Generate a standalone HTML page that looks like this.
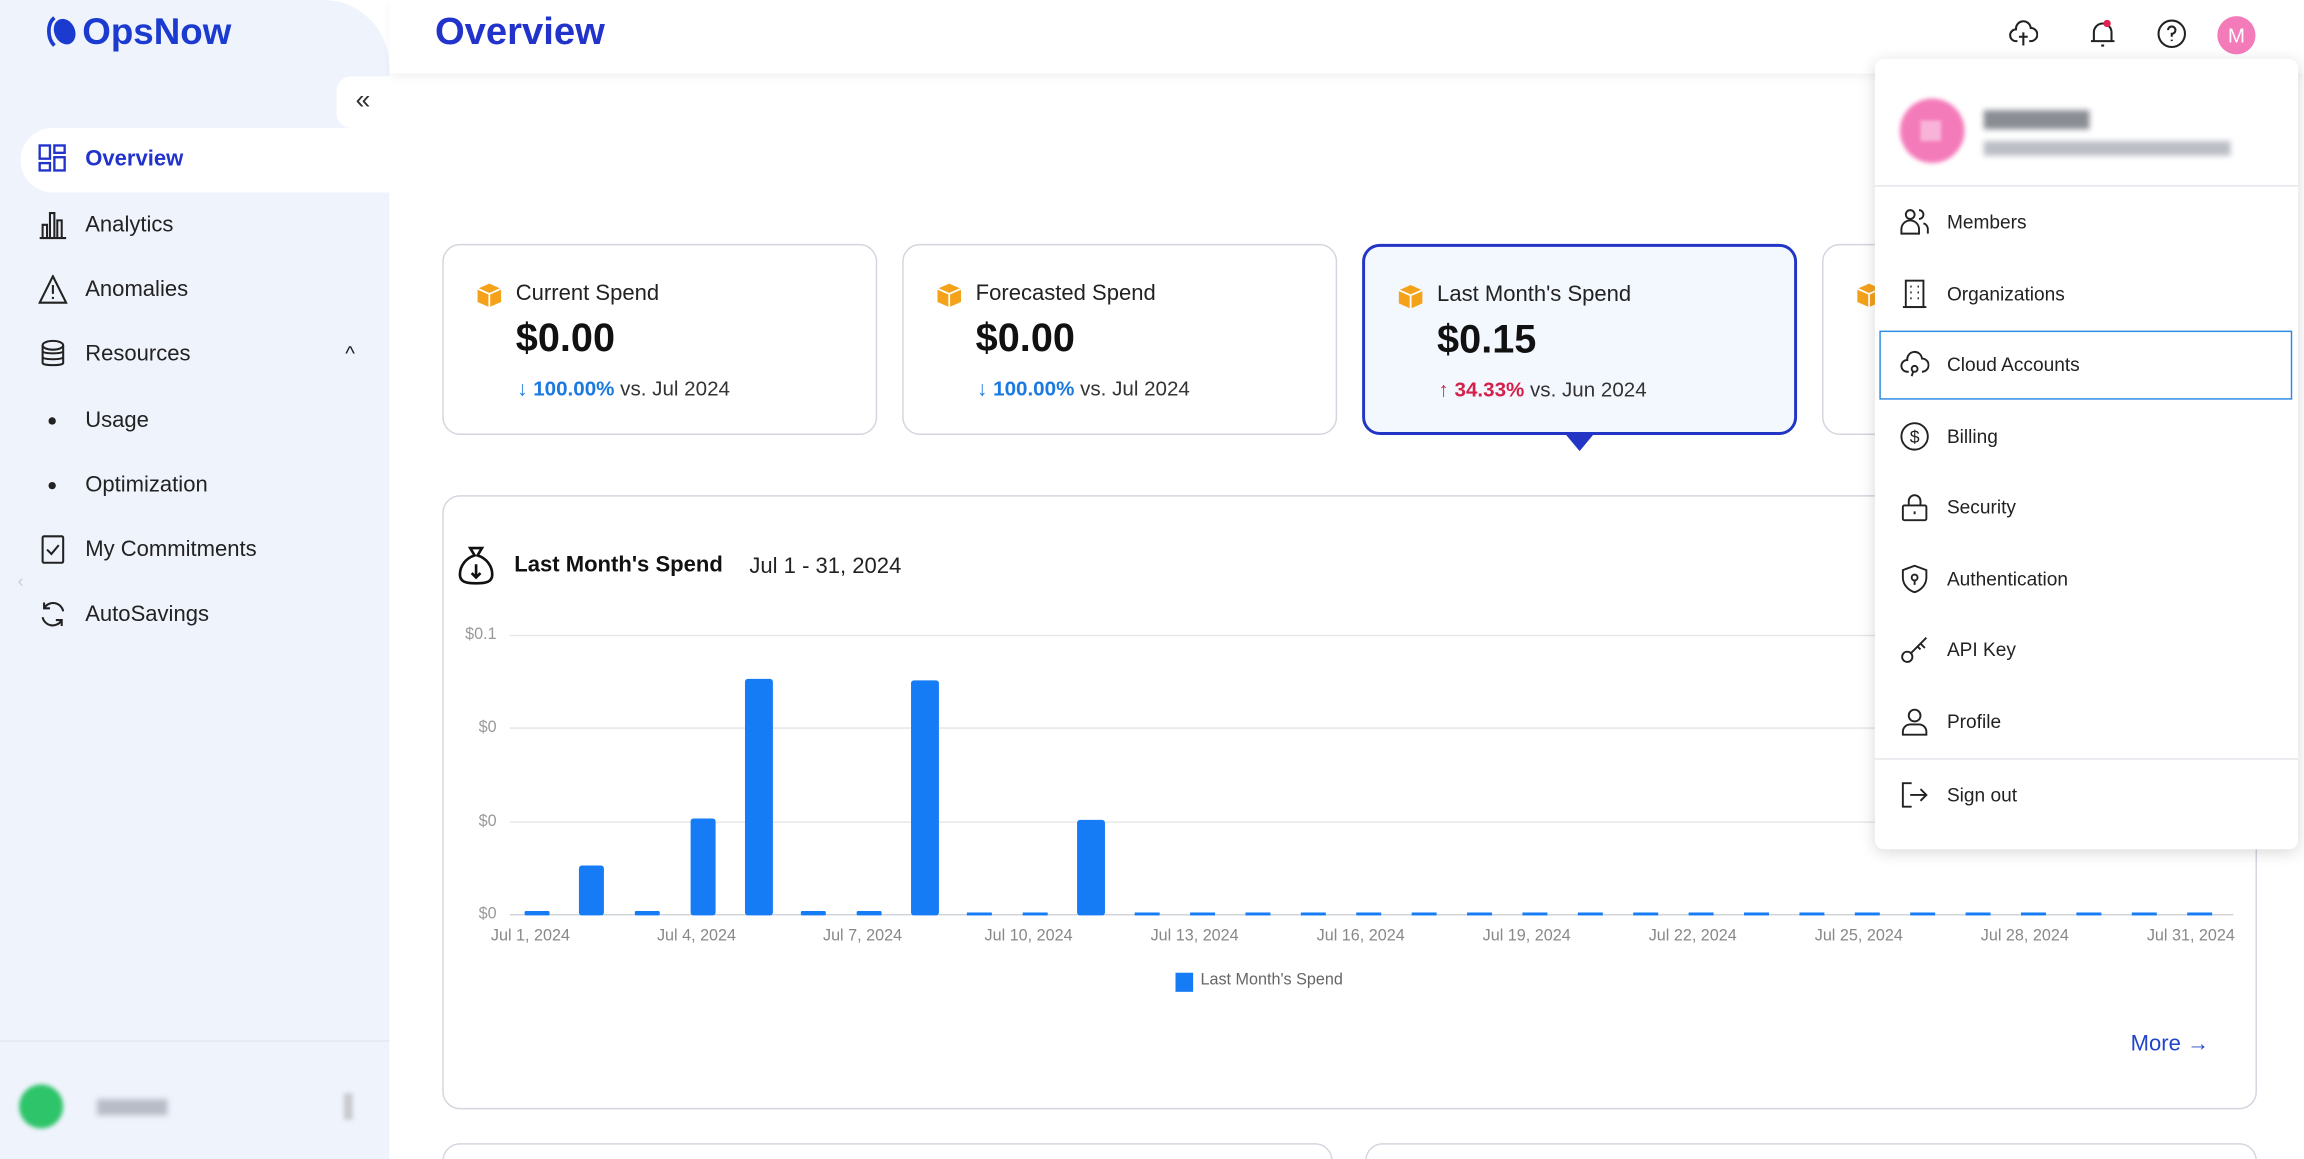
<!DOCTYPE html>
<html><head><meta charset="utf-8">
<style>
*{box-sizing:border-box;margin:0;padding:0}
html,body{width:2304px;height:1159px;overflow:hidden;background:#fff;font-family:"Liberation Sans",sans-serif}
#s{position:absolute;left:0;top:0;width:1568px;height:789px;overflow:hidden;transform:scale(1.469388);transform-origin:0 0;background:#fff}
.a{position:absolute}
.nav{position:absolute;left:58px;font-size:15px;color:#222;transform:translateY(-50%)}
.ic{position:absolute;left:26px;transform:translateY(-50%)}
.card{position:absolute;top:166px;width:296px;height:130px;border:1px solid #d3d6de;border-radius:12px;background:#fff}
.card .lb{position:absolute;left:49px;top:24px;font-size:15px;color:#222}
.card .v{position:absolute;left:49px;top:48px;font-size:27px;font-weight:bold;color:#111}
.card .sub{position:absolute;left:50px;top:89px;font-size:14px;color:#333;white-space:nowrap}
.cube{position:absolute;left:22px;top:25px;width:18px;height:18px}
.dd{position:absolute;left:1276px;top:40px;width:288px;height:538px;background:#fff;border-radius:6px;box-shadow:0 2px 10px rgba(0,0,0,.15)}
.di{position:absolute;left:49px;font-size:13px;color:#222;transform:translateY(-50%)}
.dic{position:absolute;left:17px;transform:translateY(-50%)}
.yl{position:absolute;right:1230px;font-size:11px;color:#999;transform:translateY(-50%)}
.xl{position:absolute;top:631px;font-size:11px;color:#888;transform:translateX(-50%);white-space:nowrap}
</style></head><body><div id="s">
<div class="a" style="left:0;top:0;width:265px;height:900px;background:#eff3fc;border-top-right-radius:45px"></div>
<div class="a" style="left:265px;top:0;width:1303px;height:50px;background:#fff;box-shadow:0 3px 6px rgba(0,0,0,.05)"></div>
<svg class="a" style="left:31px;top:10px" width="22" height="24" viewBox="0 0 22 24"><path d="M6 2 C1 6 1 16 6 21" stroke="#1a3ad0" stroke-width="2.5" fill="none"/><ellipse cx="13" cy="11.5" rx="7" ry="9" transform="rotate(-25 13 11.5)" fill="#1a3ad0"/></svg>
<div class="a" style="left:56px;top:8px;font-size:25px;font-weight:bold;color:#1a3ad0">OpsNow</div>
<div class="a" style="left:229px;top:52px;width:36px;height:35px;background:#fff;border-radius:10px 0 0 10px;font-size:18px;color:#333;text-align:center;line-height:33px">«</div>
<div class="a" style="left:14px;top:87px;width:251px;height:44px;background:#fff;border-radius:22px 0 0 22px"></div>
<svg class="ic" style="top:108px" width="20" height="20" viewBox="0 0 20 20" fill="none" stroke="#2233cc" stroke-width="1.6"><rect x="1" y="1" width="7" height="9"/><rect x="11" y="1" width="7" height="5"/><rect x="1" y="13" width="7" height="5"/><rect x="11" y="9" width="7" height="9"/></svg>
<div class="nav" style="top:108px;color:#2233cc;font-weight:bold">Overview</div>
<svg class="ic" style="top:153px" width="20" height="20" viewBox="0 0 20 20" fill="none" stroke="#222" stroke-width="1.4"><path d="M1 19H19M3 19V10H6V19M8 19V2H11V19M13 19V7H16V19"/></svg>
<div class="nav" style="top:153px">Analytics</div>
<svg class="ic" style="top:197px" width="20" height="20" viewBox="0 0 20 20" fill="none" stroke="#222" stroke-width="1.4"><path d="M10 1L19 19H1Z"/><path d="M10 7V13M10 15V16.5"/></svg>
<div class="nav" style="top:197px">Anomalies</div>
<svg class="ic" style="top:241px" width="20" height="20" viewBox="0 0 20 20" fill="none" stroke="#222" stroke-width="1.4"><ellipse cx="10" cy="4" rx="7" ry="3"/><path d="M3 4V16C3 18 17 18 17 16V4M3 8C3 10 17 10 17 8M3 12C3 14 17 14 17 12"/></svg>
<div class="nav" style="top:241px">Resources</div>
<div class="a" style="left:235px;top:232px;font-size:14px;color:#222">^</div>
<div class="a" style="left:33px;top:284px;width:5px;height:5px;border-radius:50%;background:#222"></div>
<div class="nav" style="top:286px">Usage</div>
<div class="a" style="left:33px;top:328px;width:5px;height:5px;border-radius:50%;background:#222"></div>
<div class="nav" style="top:330px">Optimization</div>
<svg class="ic" style="top:374px" width="20" height="20" viewBox="0 0 20 20" fill="none" stroke="#222" stroke-width="1.4"><rect x="3" y="1" width="14" height="18" rx="1"/><path d="M6 10L9 13L14 7"/></svg>
<div class="nav" style="top:374px">My Commitments</div>
<svg class="ic" style="top:418px" width="20" height="20" viewBox="0 0 20 20" fill="none" stroke="#222" stroke-width="1.4"><path d="M17 8A7 7 0 0 0 4 6M3 12A7 7 0 0 0 16 14M4 2V6H8M16 18V14H12"/></svg>
<div class="nav" style="top:418px">AutoSavings</div>
<div class="a" style="left:12px;top:388px;font-size:12px;color:#ccc">‹</div>
<div class="a" style="left:0;top:708px;width:265px;height:1px;background:#e3e8f2"></div>
<div class="a" style="left:13px;top:738px;width:30px;height:30px;border-radius:50%;background:#2ec46a;filter:blur(1.5px)"></div>
<div class="a" style="left:66px;top:748px;width:48px;height:11px;background:#b8bcc6;filter:blur(2px)"></div>
<div class="a" style="left:234px;top:744px;width:6px;height:18px;background:#c8cad0;filter:blur(1.5px)"></div>
<div class="a" style="left:296px;top:6px;font-size:26px;font-weight:bold;color:#2233cc">Overview</div>
<svg class="a" style="left:1367px;top:13px" width="20" height="20" viewBox="0 0 20 20" fill="none" stroke="#222" stroke-width="1.4"><path d="M6 15H5A4 4 0 0 1 5 7A5 5 0 0 1 15 6A4.5 4.5 0 0 1 15 15H14M10 9V18M7 12H13"/></svg>
<svg class="a" style="left:1421px;top:12px" width="20" height="22" viewBox="0 0 20 22" fill="none" stroke="#222" stroke-width="1.4"><path d="M4 16V10A6 6 0 0 1 16 10V16H18H2M9 19H11"/><circle cx="13" cy="4" r="2.5" fill="#e0224f" stroke="none"/></svg>
<svg class="a" style="left:1468px;top:13px" width="20" height="20" viewBox="0 0 20 20" fill="none" stroke="#222" stroke-width="1.4"><circle cx="10" cy="10" r="9"/><path d="M7.5 7.5A2.5 2.5 0 1 1 10 10V12M10 14V15"/></svg>
<div class="a" style="left:1509px;top:11px;width:26px;height:26px;border-radius:50%;background:#f47bba;color:#fff;font-size:14px;text-align:center;line-height:26px">M</div>
<svg width="0" height="0" style="position:absolute"><defs><g id="cb"><path d="M9 1L17 4.5V13.5L9 17L1 13.5V4.5Z" fill="#f5a21b"/><path d="M9 8V17M1 4.5L9 8L17 4.5" stroke="#fff" stroke-width="1.2" fill="none"/></g></defs></svg>
<div class="card" style="left:301px"><svg class="cube" viewBox="0 0 18 18"><use href="#cb"/></svg><div class="lb">Current Spend</div><div class="v">$0.00</div><div class="sub"><span style="color:#1a7ae0">↓ <b>100.00%</b></span> vs. Jul 2024</div></div>
<div class="card" style="left:614px"><svg class="cube" viewBox="0 0 18 18"><use href="#cb"/></svg><div class="lb">Forecasted Spend</div><div class="v">$0.00</div><div class="sub"><span style="color:#1a7ae0">↓ <b>100.00%</b></span> vs. Jul 2024</div></div>
<div class="card" style="left:927px;background:#f3f7fe;border:2px solid #2235c5"><svg class="cube" viewBox="0 0 18 18"><use href="#cb"/></svg><div class="lb">Last Month's Spend</div><div class="v">$0.15</div><div class="sub"><span style="color:#d4204a">↑ <b>34.33%</b></span> vs. Jun 2024</div></div>
<svg class="a" style="left:1065px;top:295px" width="20" height="12"><path d="M0 0H20L10 12Z" fill="#2235c5"/></svg>
<div class="card" style="left:1240px"><svg class="cube" viewBox="0 0 18 18"><use href="#cb"/></svg></div>
<div class="a" style="left:301px;top:337px;width:1235px;height:418px;border:1px solid #d3d6de;border-radius:12px"></div>
<svg class="a" style="left:311px;top:371px" width="26" height="28" viewBox="0 0 26 28" fill="none" stroke="#111" stroke-width="1.8"><path d="M9 2H17L14 7C20 9 24 14 24 20C24 25 20 26 13 26C6 26 2 25 2 20C2 14 6 9 12 7Z"/><path d="M13 13V22M10 19L13 22L16 19"/></svg>
<div class="a" style="left:350px;top:376px;font-size:15px;font-weight:bold;color:#111">Last Month's Spend</div>
<div class="a" style="left:510px;top:377px;font-size:15px;color:#222">Jul 1 - 31, 2024</div>
<div class="a" style="left:347px;top:432px;width:1173px;height:1px;background:#e4e6ea"></div>
<div class="a" style="left:347px;top:495px;width:1173px;height:1px;background:#e4e6ea"></div>
<div class="a" style="left:347px;top:559px;width:1173px;height:1px;background:#e4e6ea"></div>
<div class="a" style="left:347px;top:622px;width:1173px;height:1px;background:#d0d3d8"></div>
<div class="yl" style="top:432px">$0.1</div><div class="yl" style="top:495px">$0</div><div class="yl" style="top:559px">$0</div><div class="yl" style="top:622px">$0</div>
<svg class="a" style="left:0;top:0" width="1568" height="789">
<g fill="#167cf5">
<rect x="357" y="620" width="17" height="3" rx="1"/><rect x="394" y="589" width="17" height="34" rx="2"/><rect x="432" y="620" width="17" height="3" rx="1"/><rect x="470" y="557" width="17" height="66" rx="2"/><rect x="507" y="462" width="19" height="161" rx="2"/><rect x="545" y="620" width="17" height="3" rx="1"/><rect x="583" y="620" width="17" height="3" rx="1"/><rect x="620" y="463" width="19" height="160" rx="2"/><rect x="658" y="621" width="17" height="2"/><rect x="696" y="621" width="17" height="2"/><rect x="733" y="558" width="19" height="65" rx="2"/>
</g>
<g fill="#167cf5" id="tiny"></g>
</svg>
<script>
var g=document.getElementById('tiny'),h='';
for(var i=11;i<31;i++){var x=366+i*37.7-8.5;h+='<rect x="'+x+'" y="621" width="17" height="2"/>';}
g.innerHTML=h;
</script>
<div class="xl" style="left:361px">Jul 1, 2024</div><div class="xl" style="left:474px">Jul 4, 2024</div><div class="xl" style="left:587px">Jul 7, 2024</div><div class="xl" style="left:700px">Jul 10, 2024</div><div class="xl" style="left:813px">Jul 13, 2024</div><div class="xl" style="left:926px">Jul 16, 2024</div><div class="xl" style="left:1039px">Jul 19, 2024</div><div class="xl" style="left:1152px">Jul 22, 2024</div><div class="xl" style="left:1265px">Jul 25, 2024</div><div class="xl" style="left:1378px">Jul 28, 2024</div><div class="xl" style="left:1491px">Jul 31, 2024</div>
<div class="a" style="left:800px;top:662px;width:12px;height:13px;background:#167cf5"></div>
<div class="a" style="left:817px;top:661px;font-size:11px;color:#666">Last Month's Spend</div>
<div class="a" style="left:1450px;top:702px;font-size:15px;color:#2244cc">More →</div>
<div class="a" style="left:301px;top:778px;width:606px;height:60px;border:1px solid #d3d6de;border-radius:12px"></div>
<div class="a" style="left:929px;top:778px;width:607px;height:60px;border:1px solid #d3d6de;border-radius:12px"></div>
<div class="dd">
<div class="a" style="left:17px;top:27px;width:44px;height:44px;border-radius:50%;background:#f47bba;filter:blur(1.5px)"></div>
<div class="a" style="left:31px;top:42px;width:14px;height:14px;background:#f8b4d8;filter:blur(1px)"></div>
<div class="a" style="left:74px;top:35px;width:72px;height:13px;background:#8a8d94;filter:blur(2px)"></div>
<div class="a" style="left:74px;top:56px;width:168px;height:10px;background:#bbbec5;filter:blur(2px)"></div>
<div class="a" style="left:0;top:86px;width:288px;height:1px;background:#e3e5ea"></div>
<svg class="dic" style="top:111px" width="20" height="20" viewBox="0 0 20 20" fill="none" stroke="#222" stroke-width="1.3"><circle cx="7" cy="5" r="3"/><path d="M1 18V15A4 4 0 0 1 13 15V18ZM13 2A3 3 0 0 1 13 8M16 11A4 4 0 0 1 19 15V18"/></svg><div class="di" style="top:111px">Members</div>
<svg class="dic" style="top:160px" width="20" height="20" viewBox="0 0 20 20" fill="none" stroke="#222" stroke-width="1.3"><rect x="4" y="1" width="12" height="18"/><path d="M7 5H8M12 5H13M7 9H8M12 9H13M7 13H8M12 13H13M2 19H18"/></svg><div class="di" style="top:160px">Organizations</div>
<div class="a" style="left:3px;top:185px;width:281px;height:47px;border:1.5px solid #2b8be6"></div>
<svg class="dic" style="top:208px" width="20" height="20" viewBox="0 0 20 20" fill="none" stroke="#222" stroke-width="1.3"><path d="M6 15H5A4 4 0 0 1 5 7A5 5 0 0 1 15 6A4.5 4.5 0 0 1 15 15"/><circle cx="10" cy="13" r="2"/><path d="M9 15L8 18"/></svg><div class="di" style="top:208px">Cloud Accounts</div>
<svg class="dic" style="top:257px" width="20" height="20" viewBox="0 0 20 20" fill="none" stroke="#222" stroke-width="1.3"><circle cx="10" cy="10" r="9"/><text x="10" y="14.5" font-size="12" text-anchor="middle" fill="#222" stroke="none" font-family="Liberation Sans">$</text></svg><div class="di" style="top:257px">Billing</div>
<svg class="dic" style="top:305px" width="20" height="20" viewBox="0 0 20 20" fill="none" stroke="#222" stroke-width="1.3"><rect x="2" y="9" width="16" height="10" rx="1"/><path d="M6 9V6A4 4 0 0 1 14 6V9M10 13V15"/></svg><div class="di" style="top:305px">Security</div>
<svg class="dic" style="top:354px" width="20" height="20" viewBox="0 0 20 20" fill="none" stroke="#222" stroke-width="1.3"><path d="M10 1L18 4V9C18 14 14 18 10 19C6 18 2 14 2 9V4Z"/><circle cx="10" cy="9" r="2"/><path d="M10 11V14"/></svg><div class="di" style="top:354px">Authentication</div>
<svg class="dic" style="top:402px" width="20" height="20" viewBox="0 0 20 20" fill="none" stroke="#222" stroke-width="1.3"><circle cx="5" cy="15" r="3.5"/><path d="M7.5 12.5L18 2M14 6L17 9M12 8L14 10"/></svg><div class="di" style="top:402px">API Key</div>
<svg class="dic" style="top:451px" width="20" height="20" viewBox="0 0 20 20" fill="none" stroke="#222" stroke-width="1.3"><circle cx="10" cy="6" r="4"/><path d="M2 19V17A5 5 0 0 1 7 12H13A5 5 0 0 1 18 17V19Z"/></svg><div class="di" style="top:451px">Profile</div>
<div class="a" style="left:0;top:476px;width:288px;height:1px;background:#e3e5ea"></div>
<svg class="dic" style="top:501px" width="20" height="20" viewBox="0 0 20 20" fill="none" stroke="#222" stroke-width="1.3"><path d="M8 2H2V18H8M7 10H18M14 6L18 10L14 14"/></svg><div class="di" style="top:501px">Sign out</div>
</div>
</div></body></html>
